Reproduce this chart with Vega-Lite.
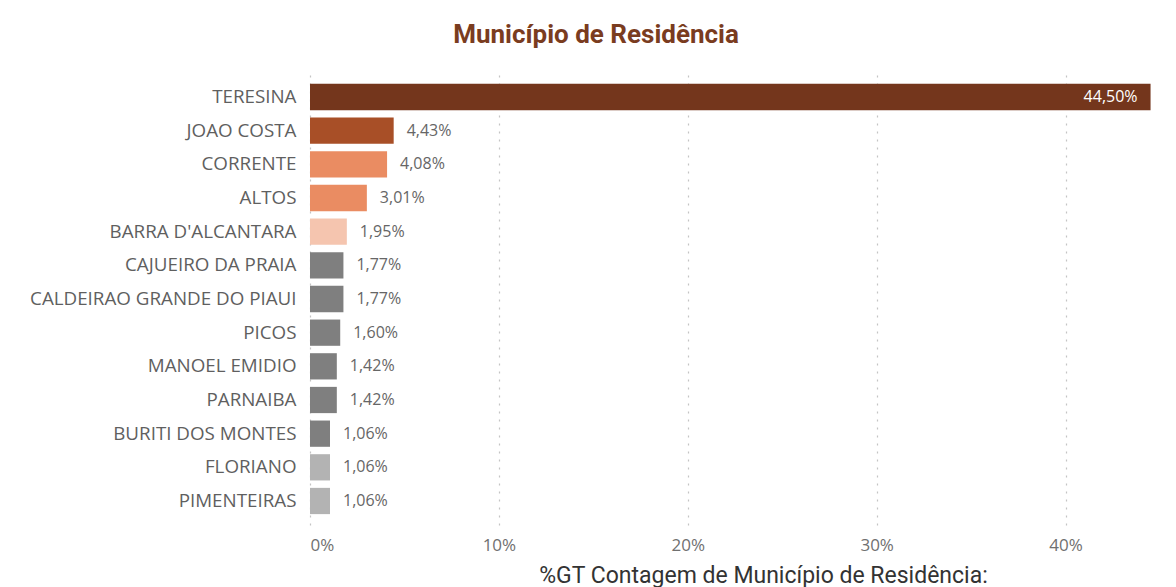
{
  "$schema": "https://vega.github.io/schema/vega-lite/v6.json",
  "autosize": {"type": "none"},
  "width": 850,
  "height": 452,
  "padding": {"left": 310, "top": 73, "right": 16, "bottom": 62},
  "background": "#ffffff",
  "config": {
    "locale": {"number": {"decimal": ",", "thousands": ".", "grouping": [3], "currency": ["R$", ""]}},
    "view": {"stroke": null},
    "font": "Open Sans"
  },
  "title": {
    "text": "Município de Residência",
    "font": "Roboto",
    "fontSize": 26,
    "fontWeight": "bold",
    "color": "#7a3c1f",
    "anchor": "middle",
    "frame": "group",
    "dx": -139,
    "offset": 25
  },
  "data": {
    "values": [
      {"municipio": "TERESINA", "pct": 0.4450},
      {"municipio": "JOAO COSTA", "pct": 0.0443},
      {"municipio": "CORRENTE", "pct": 0.0408},
      {"municipio": "ALTOS", "pct": 0.0301},
      {"municipio": "BARRA D'ALCANTARA", "pct": 0.0195},
      {"municipio": "CAJUEIRO DA PRAIA", "pct": 0.0177},
      {"municipio": "CALDEIRAO GRANDE DO PIAUI", "pct": 0.0177},
      {"municipio": "PICOS", "pct": 0.0160},
      {"municipio": "MANOEL EMIDIO", "pct": 0.0142},
      {"municipio": "PARNAIBA", "pct": 0.0142},
      {"municipio": "BURITI DOS MONTES", "pct": 0.0106},
      {"municipio": "FLORIANO", "pct": 0.0106},
      {"municipio": "PIMENTEIRAS", "pct": 0.0106}
    ]
  },
  "encoding": {
    "y": {
      "field": "municipio",
      "type": "nominal",
      "sort": null,
      "scale": {"paddingInner": 0.22, "paddingOuter": 0.323},
      "axis": {
        "title": null,
        "domain": false,
        "ticks": false,
        "labelPadding": 14,
        "labelFont": "Open Sans",
        "labelFontSize": 18.8,
        "labelColor": "#5f5f5f",
        "labelLimit": 400
      }
    },
    "x": {
      "field": "pct",
      "type": "quantitative",
      "scale": {"domain": [0, 0.45], "nice": false},
      "axis": {
        "format": ".0%",
        "values": [0, 0.1, 0.2, 0.3, 0.4],
        "domain": false,
        "ticks": false,
        "grid": true,
        "gridDash": [2, 6],
        "gridColor": "#c4c4c4",
        "gridWidth": 1.2,
        "labelPadding": 12,
        "labelFont": "Open Sans",
        "labelFontSize": 17,
        "labelColor": "#707070",
        "title": "%GT Contagem de Município de Residência:",
        "titleFont": "Roboto",
        "titleFontSize": 23,
        "titleFontWeight": "normal",
        "titleColor": "#333333",
        "titlePadding": 11,
        "titleX": 453
      }
    }
  },
  "layer": [
    {
      "mark": {"type": "bar"},
      "encoding": {
        "color": {
          "field": "municipio",
          "type": "nominal",
          "legend": null,
          "scale": {
            "domain": ["TERESINA", "JOAO COSTA", "CORRENTE", "ALTOS", "BARRA D'ALCANTARA", "CAJUEIRO DA PRAIA", "CALDEIRAO GRANDE DO PIAUI", "PICOS", "MANOEL EMIDIO", "PARNAIBA", "BURITI DOS MONTES", "FLORIANO", "PIMENTEIRAS"],
            "range": ["#74361c", "#a84f27", "#ea8c62", "#ea8c62", "#f5c5af", "#7f7f7f", "#7f7f7f", "#7f7f7f", "#7f7f7f", "#7f7f7f", "#7f7f7f", "#b3b3b3", "#b3b3b3"]
          }
        }
      }
    },
    {
      "transform": [{"filter": "datum.pct < 0.2"}],
      "mark": {"type": "text", "align": "left", "dx": 13, "fontSize": 16, "font": "Open Sans", "color": "#666666"},
      "encoding": {"text": {"field": "pct", "type": "quantitative", "format": ".2%"}}
    },
    {
      "transform": [{"filter": "datum.pct >= 0.2"}],
      "mark": {"type": "text", "align": "right", "dx": -13, "fontSize": 16, "font": "Open Sans", "color": "#ffffff"},
      "encoding": {"text": {"field": "pct", "type": "quantitative", "format": ".2%"}}
    }
  ]
}
